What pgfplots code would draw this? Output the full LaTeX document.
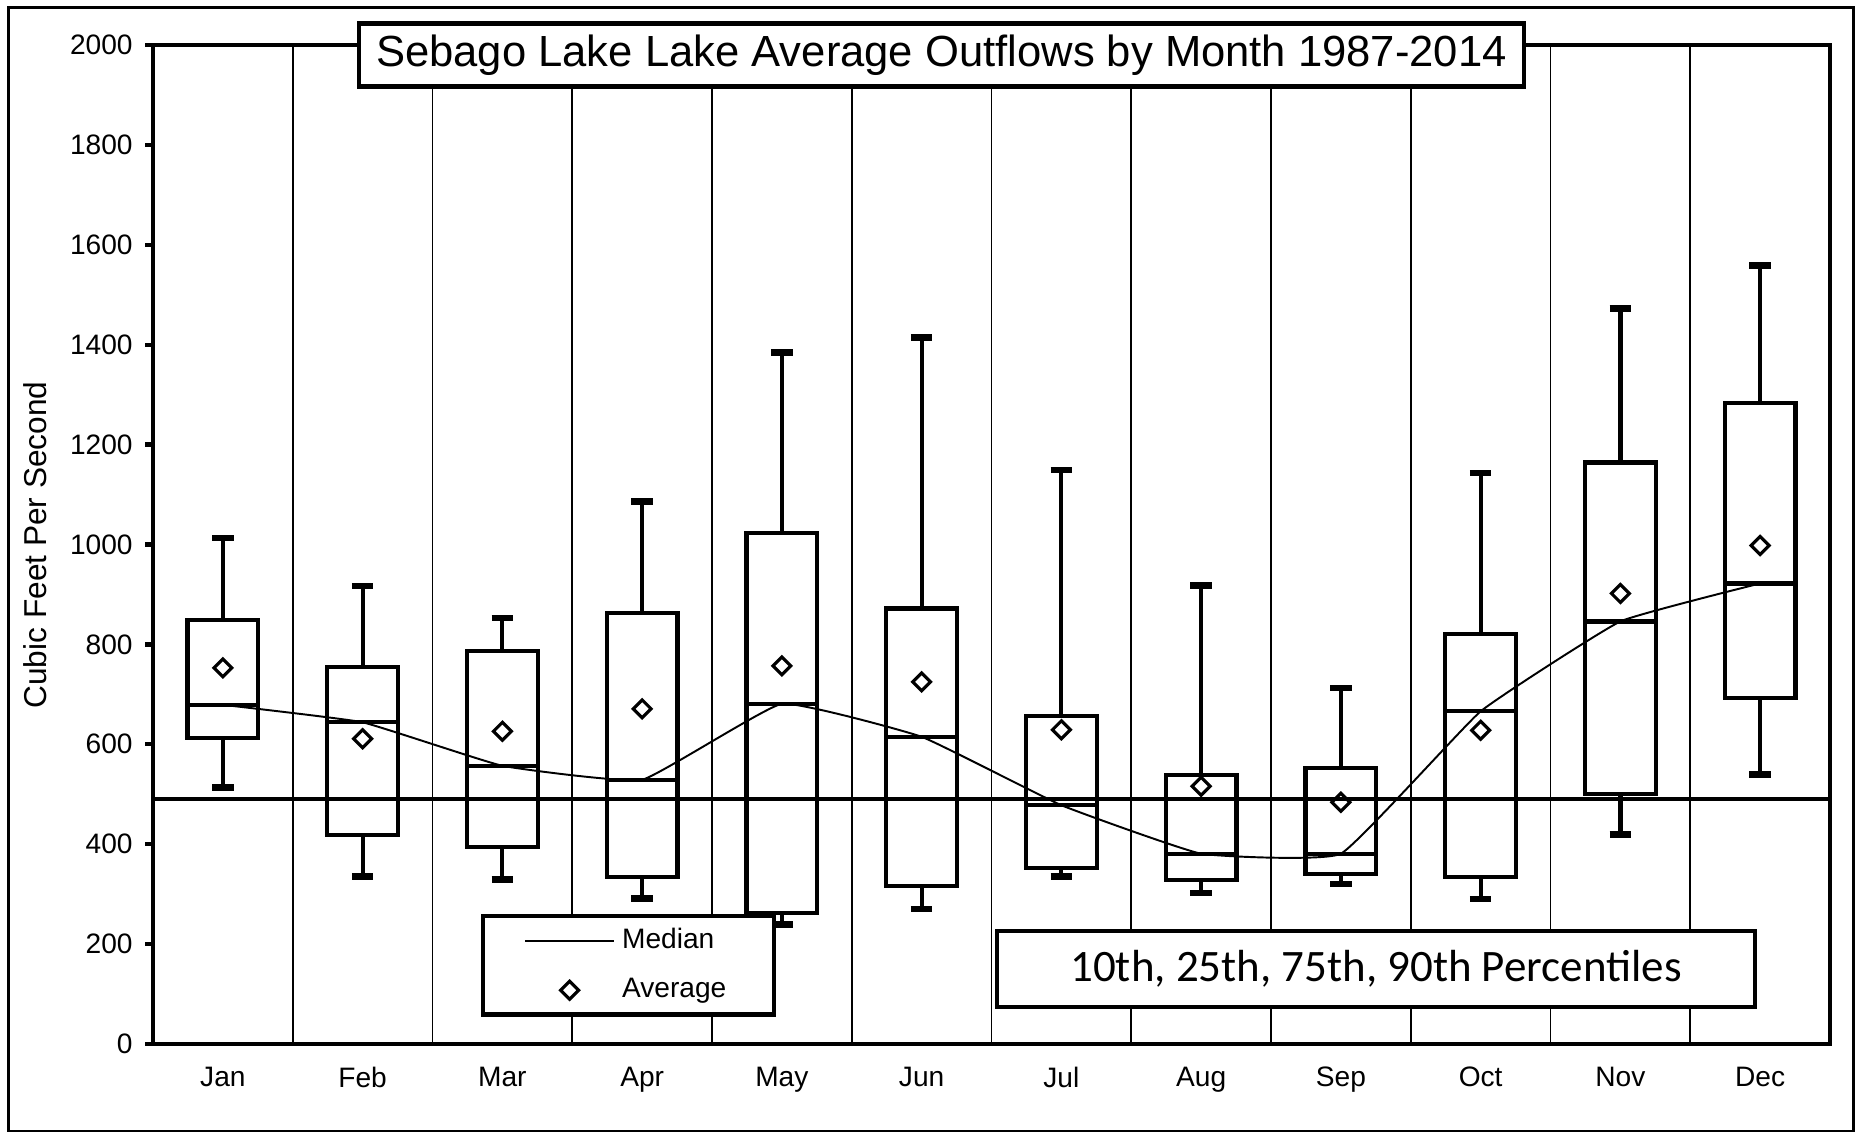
\documentclass[border=0pt]{standalone}
\usepackage{fontspec}
\setmainfont{Liberation Sans}
\newfontfamily\calibri{Carlito}
\usepackage{pgfplots}
\usepackage{pgfplotstable}
\pgfplotsset{compat=1.18}
\pgfplotsset{
  medleg/.style={legend image code/.code={\draw[##1] (0cm,0cm) -- (0.89cm,0cm);}},
  avgleg/.style={legend image code/.code={\path[draw=none, fill=none] (0cm,0cm) -- (0.89cm,0cm); \draw[##1] plot coordinates {(0.445cm,0cm)};}},
}

% box outlines: 25th to 75th percentile (x = month index -/+ half box width)
\pgfplotstableread{
x y
-0.253 613
0.253 613
0.253 849
-0.253 849
-0.253 613
nan nan
0.747 419
1.253 419
1.253 755
0.747 755
0.747 419
nan nan
1.747 395
2.253 395
2.253 787
1.747 787
1.747 395
nan nan
2.747 334
3.253 334
3.253 863
2.747 863
2.747 334
nan nan
3.747 263
4.253 263
4.253 1023
3.747 1023
3.747 263
nan nan
4.747 317
5.253 317
5.253 872
4.747 872
4.747 317
nan nan
5.747 352
6.253 352
6.253 657
5.747 657
5.747 352
nan nan
6.747 328
7.253 328
7.253 538
6.747 538
6.747 328
nan nan
7.747 340
8.253 340
8.253 553
7.747 553
7.747 340
nan nan
8.747 335
9.253 335
9.253 821
8.747 821
8.747 335
nan nan
9.747 500
10.253 500
10.253 1164
9.747 1164
9.747 500
nan nan
10.747 692
11.253 692
11.253 1283
10.747 1283
10.747 692
}\boxes

% median bars inside the boxes
\pgfplotstableread{
x y
-0.253 679
0.253 679
nan nan
0.747 644
1.253 644
nan nan
1.747 557
2.253 557
nan nan
2.747 529
3.253 529
nan nan
3.747 681
4.253 681
nan nan
4.747 615
5.253 615
nan nan
5.747 478
6.253 478
nan nan
6.747 381
7.253 381
nan nan
7.747 381
8.253 381
nan nan
8.747 666
9.253 666
nan nan
9.747 846
10.253 846
nan nan
10.747 922
11.253 922
}\medbars

% whiskers: 75th to 90th and 25th to 10th percentile
\pgfplotstableread{
x y
0 849
0 1013
nan nan
0 613
0 513
nan nan
1 755
1 917
nan nan
1 419
1 336
nan nan
2 787
2 853
nan nan
2 395
2 329
nan nan
3 863
3 1086
nan nan
3 334
3 291
nan nan
4 1023
4 1384
nan nan
4 263
4 239
nan nan
5 872
5 1415
nan nan
5 317
5 270
nan nan
6 657
6 1149
nan nan
6 352
6 336
nan nan
7 538
7 918
nan nan
7 328
7 302
nan nan
8 553
8 713
nan nan
8 340
8 320
nan nan
9 821
9 1143
nan nan
9 335
9 290
nan nan
10 1164
10 1473
nan nan
10 500
10 420
nan nan
11 1283
11 1558
nan nan
11 692
11 540
}\whiskers

% whisker caps at 10th and 90th percentile
\pgfplotstableread{
x y
-0.0775 1013
0.0775 1013
nan nan
-0.0775 513
0.0775 513
nan nan
0.9225 917
1.0775 917
nan nan
0.9225 336
1.0775 336
nan nan
1.9225 853
2.0775 853
nan nan
1.9225 329
2.0775 329
nan nan
2.9225 1086
3.0775 1086
nan nan
2.9225 291
3.0775 291
nan nan
3.9225 1384
4.0775 1384
nan nan
3.9225 239
4.0775 239
nan nan
4.9225 1415
5.0775 1415
nan nan
4.9225 270
5.0775 270
nan nan
5.9225 1149
6.0775 1149
nan nan
5.9225 336
6.0775 336
nan nan
6.9225 918
7.0775 918
nan nan
6.9225 302
7.0775 302
nan nan
7.9225 713
8.0775 713
nan nan
7.9225 320
8.0775 320
nan nan
8.9225 1143
9.0775 1143
nan nan
8.9225 290
9.0775 290
nan nan
9.9225 1473
10.0775 1473
nan nan
9.9225 420
10.0775 420
nan nan
10.9225 1558
11.0775 1558
nan nan
10.9225 540
11.0775 540
}\caps

\begin{document}
\begin{tikzpicture}
\useasboundingbox (0,0) rectangle (18.62,11.35);
\draw[line width=0.85pt] (0.085,0.04) rectangle (18.53,11.27);
\begin{axis}[
  at={(1.53cm,0.91cm)}, anchor=south west,
  scale only axis, width=16.77cm, height=9.99cm,
  xmin=-0.5, xmax=11.5, ymin=0, ymax=2000,
  xtick={0,...,11},
  xticklabels={Jan,Feb,Mar,Apr,May,Jun,Jul,Aug,Sep,Oct,Nov,Dec},
  minor xtick={0.5,1.5,...,10.5},
  xminorgrids=true,
  minor x grid style={black, line width=0.5pt},
  ytick={0,200,...,2000},
  ytick pos=left, xtick pos=bottom,
  tick align=outside,
  major tick length=0.08cm, minor tick length=0pt,
  x tick style={draw=none},
  y tick style={black, line width=1.2pt},
  axis line style={black, line width=1.4pt},
  tick label style={font=\fontsize{8}{9}\selectfont},
  /pgf/number format/assume math mode=true,
  y tick label style={/pgf/number format/1000 sep={}},
  x tick label style={yshift=-0.8pt},
  unbounded coords=jump,
  legend cell align=left,
  legend style={at={(0.1956,0.130)}, anchor=north west, draw=black,
    line width=1.2pt, fill=white, font=\fontsize{8}{9}\selectfont,
    inner xsep=0.41cm, inner ysep=0.05cm, row sep=0.1cm},
]
\addplot[black, line width=1.2pt, line cap=rect, forget plot] table[x=x, y=y] {\boxes};
\addplot[black, line width=1.2pt, forget plot] table[x=x, y=y] {\medbars};
\addplot[black, line width=1.2pt, forget plot] table[x=x, y=y] {\whiskers};
\addplot[black, line width=1.9pt, forget plot] table[x=x, y=y] {\caps};
% reference flow line
\addplot[black, line width=1.1pt, forget plot] coordinates {(-0.5,490) (11.5,490)};
% median line
\addplot[black, line width=0.55pt, smooth, tension=0.2, medleg]
  coordinates {(0,679) (1,644) (2,557) (3,529) (4,681) (5,615) (6,478) (7,381) (8,381) (9,666) (10,846) (11,922)};
\addlegendentry{Median}
% averages
\addplot[black, only marks, mark=square, mark size=1.8pt,
  mark options={rotate=45, solid, line width=0.9pt, fill=white}, avgleg]
  coordinates {(0,753) (1,611) (2,626) (3,671) (4,757) (5,725) (6,629) (7,516) (8,484) (9,628) (10,902) (11,998)};
\addlegendentry{Average}
\end{axis}
\node[draw, line width=1.2pt, fill=white, minimum width=11.65cm, minimum height=0.63cm, inner sep=0pt,
  font=\fontsize{12.4}{14}\selectfont] at (9.415,10.80) {Sebago Lake Lake Average Outflows by Month 1987-2014};
\node[draw, line width=1.2pt, fill=white, minimum width=7.58cm, minimum height=0.76cm, inner sep=0pt,
  font=\calibri\fontsize{12.8}{15}\selectfont] at (13.76,1.66) {10th, 25th, 75th, 90th Percentiles};
\node[rotate=90, font=\fontsize{9}{11}\selectfont] at (0.356,5.90) {Cubic Feet Per Second};
\end{tikzpicture}
\end{document}
